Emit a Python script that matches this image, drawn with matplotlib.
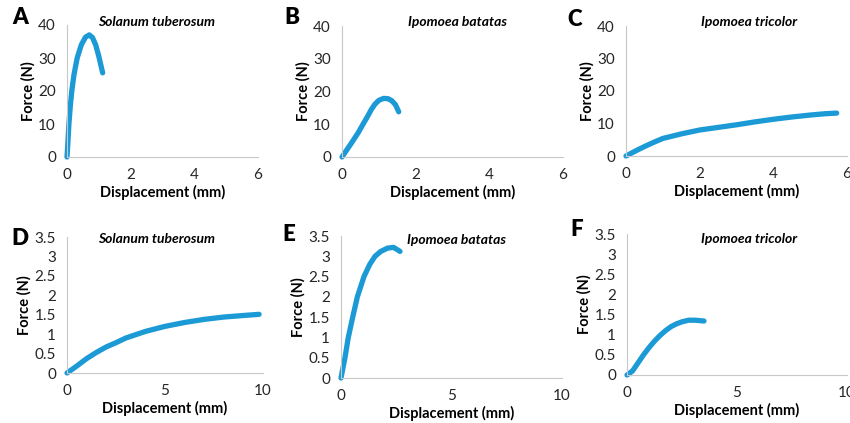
import matplotlib
matplotlib.use("Agg")
import matplotlib.pyplot as plt

plt.rcParams['font.family'] = ['Lato', 'DejaVu Sans']

# --- data (displacement mm, force N) ---
a_x = [0, 0.02, 0.06, 0.10, 0.15, 0.22, 0.32, 0.45, 0.58, 0.70, 0.80, 0.90, 1.00, 1.12]
a_y = [0, 3, 10, 15, 20, 25, 30, 34, 36.3, 37, 36.2, 34, 30.5, 25.5]

b_x = [0, 0.15, 0.30, 0.45, 0.57, 0.70, 0.80, 0.90, 1.00, 1.13, 1.25, 1.35, 1.45, 1.54]
b_y = [0, 2.5, 5, 7.6, 10, 12.5, 14.6, 16.2, 17.3, 17.9, 17.8, 17.2, 16, 13.8]

c_x = [0, 0.25, 0.5, 0.75, 1, 1.5, 2, 2.5, 3, 3.5, 4, 4.5, 5, 5.4, 5.72]
c_y = [0, 1.5, 2.9, 4.2, 5.4, 6.8, 8, 8.8, 9.6, 10.5, 11.3, 12, 12.6, 13, 13.2]

d_x = [0, 0.5, 1, 1.5, 2, 2.5, 3, 4, 5, 6, 7, 8, 9, 9.8]
d_y = [0, 0.18, 0.37, 0.53, 0.67, 0.78, 0.9, 1.07, 1.2, 1.3, 1.38, 1.44, 1.48, 1.51]

e_x = [0, 0.18, 0.33, 0.53, 0.74, 1.04, 1.3, 1.54, 1.8, 2.1, 2.37, 2.5, 2.67]
e_y = [0, 0.5, 1, 1.5, 2, 2.5, 2.8, 3, 3.12, 3.2, 3.22, 3.18, 3.12]

f_x = [0, 0.25, 0.5, 0.75, 1, 1.25, 1.5, 1.75, 2, 2.25, 2.5, 2.8, 3.1, 3.5]
f_y = [0, 0.1, 0.3, 0.5, 0.68, 0.84, 0.98, 1.1, 1.2, 1.27, 1.32, 1.36, 1.36, 1.34]

letters = ['A', 'B', 'C', 'D', 'E', 'F']
species = ['Solanum tuberosum', 'Ipomoea batatas', 'Ipomoea tricolor'] * 2
xs = [a_x, b_x, c_x, d_x, e_x, f_x]
ys = [a_y, b_y, c_y, d_y, e_y, f_y]

W, H = 850, 423
# axes boxes in pixels: left, top, right, bottom
boxes = [(67, 25, 258, 157), (342, 26, 563, 157), (626, 26, 847, 156),
         (67, 237, 263, 373), (341, 236, 562, 378), (627, 234, 847, 375)]
letter_pos = [(20, 18), (292, 18), (575, 19), (20, 238), (289, 234), (577, 229)]
title_pos = [(157, 22), (458, 22), (749, 22), (157, 239), (457, 240), (749, 239)]

blue = '#1b9ad6'
fig = plt.figure(figsize=(8.5, 4.23), dpi=100)

for i in range(6):
    l, t, r, b = boxes[i]
    ax = fig.add_axes([l / W, 1 - b / H, (r - l) / W, (b - t) / H])
    ax.plot(xs[i], ys[i], color=blue, lw=3.8, solid_capstyle='round', clip_on=False)
    for s in ['top', 'right']:
        ax.spines[s].set_visible(False)
    for s in ['left', 'bottom']:
        ax.spines[s].set_color('#c8c8c8')
        ax.spines[s].set_linewidth(0.8)
    if i < 3:
        ax.set_xlim(0, 6)
        ax.set_ylim(0, 40)
        ax.set_xticks([0, 2, 4, 6])
        ax.set_yticks([0, 10, 20, 30, 40])
    else:
        ax.set_xlim(0, 10)
        ax.set_ylim(0, 3.5)
        ax.set_xticks([0, 5, 10])
        ax.set_yticks([0, 0.5, 1, 1.5, 2, 2.5, 3, 3.5])
        ax.set_yticklabels(['0', '0.5', '1', '1.5', '2', '2.5', '3', '3.5'])
    ax.tick_params(length=0, labelsize=11, colors='#262626', pad=8)
    ax.set_xlabel('Displacement (mm)', fontsize=10.5, fontweight='bold', labelpad=2)
    ax.set_ylabel('Force (N)', fontsize=10.5, fontweight='bold', labelpad=2)
    fig.text(title_pos[i][0] / W, 1 - title_pos[i][1] / H, species[i],
             fontsize=10, fontweight='bold', style='italic', ha='center', va='center')
    fig.text(letter_pos[i][0] / W, 1 - letter_pos[i][1] / H, letters[i],
             fontsize=16, fontweight='heavy', ha='center', va='center')

fig.savefig('out.png', dpi=100)
